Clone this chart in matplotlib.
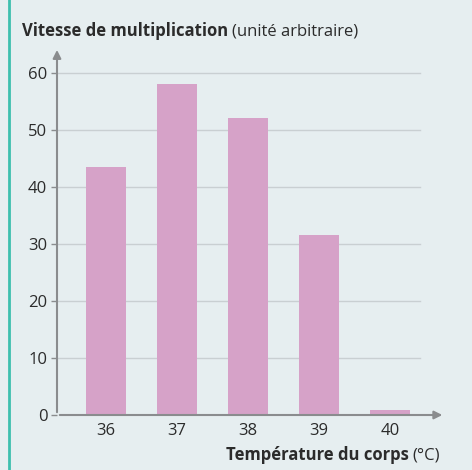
import matplotlib.pyplot as plt
from matplotlib.patches import FancyArrowPatch

# données
temperatures = ['36', '37', '38', '39', '40']
vitesse = [43.5, 58, 52, 31.5, 0.9]
yticks = [0, 10, 20, 30, 40, 50, 60]

bg = '#e6eef0'
bar_color = '#d6a2c8'
axis_color = '#8a8c8e'
grid_color = '#c9cfd2'
text_color = '#2b2b2b'

plt.rcParams['font.family'] = ['Open Sans', 'DejaVu Sans']

fig = plt.figure(figsize=(4.72, 4.70), dpi=100)
fig.patch.set_facecolor(bg)
ax = fig.add_axes([57 / 472, 55 / 470, 386 / 472, 365 / 470])
ax.set_facecolor(bg)

x = range(len(temperatures))
ax.set_xlim(-0.69, 4.75)
ax.set_ylim(0, 64)

# grille horizontale (s'arrête avant la flèche)
for v in yticks[1:]:
    ax.plot([-0.69, 4.42], [v, v], color=grid_color, lw=1, zorder=1)

ax.bar(x, vitesse, width=0.56, color=bar_color, zorder=2)

for s in ax.spines.values():
    s.set_visible(False)

# axes avec flèches
ax.add_patch(FancyArrowPatch((-0.69, 0), (4.78, 0), arrowstyle='-|>', mutation_scale=12,
                             color=axis_color, lw=1.5, zorder=3, clip_on=False))
ax.add_patch(FancyArrowPatch((-0.69, 0), (-0.69, 64.5), arrowstyle='-|>', mutation_scale=12,
                             color=axis_color, lw=1.5, zorder=3, clip_on=False))

ax.set_yticks(yticks)
ax.set_yticklabels([str(v) for v in yticks])
ax.set_xticks(list(x))
ax.set_xticklabels(temperatures)
ax.tick_params(axis='y', length=4, width=1, color=axis_color, labelsize=12,
               labelcolor=text_color, pad=3)
ax.tick_params(axis='x', length=0, labelsize=12, labelcolor=text_color, pad=6)

# titre en deux parties
t1 = fig.text(22 / 472, 1 - 31 / 470, 'Vitesse de multiplication', fontsize=12,
              fontweight='bold', color=text_color, va='center', ha='left')
fig.canvas.draw()
bb = t1.get_window_extent()
fig.text(bb.x1 / 472 + 0.008, 1 - 31 / 470, '(unité arbitraire)', fontsize=12,
         color=text_color, va='center', ha='left')

# légende de l'axe horizontal
t2 = fig.text(0.5, 1 - 455 / 470, 'Température du corps', fontsize=12,
              fontweight='bold', color=text_color, va='center', ha='left')
t3 = fig.text(440 / 472, 1 - 455 / 470, '(°C)', fontsize=12,
              color=text_color, va='center', ha='right')
fig.canvas.draw()
w3 = t3.get_window_extent().width
w2 = t2.get_window_extent().width
t2.set_x((440 - w3 - 4 - w2) / 472)

# liseré vert à gauche
fig.add_artist(plt.Line2D([9 / 472, 9 / 472], [0, 1], color='#3dbfae', lw=2))

fig.savefig('out.png', dpi=100, facecolor=bg)
